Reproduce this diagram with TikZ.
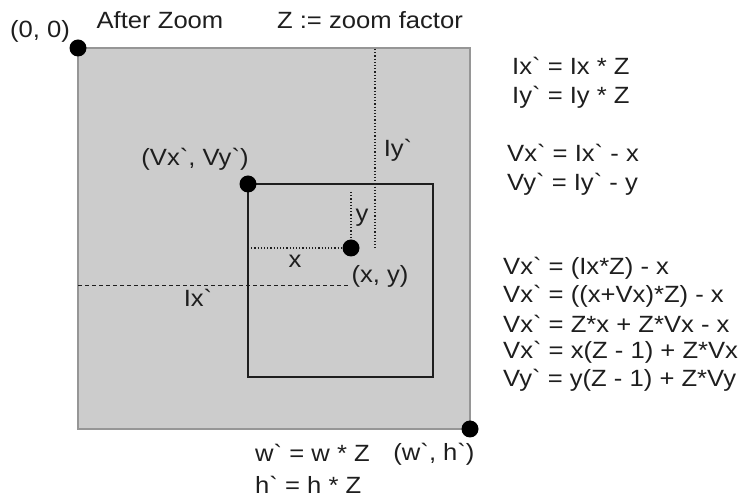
\documentclass[tikz,border=0pt]{standalone}
\usepackage{fontspec}
\newfontfamily\lib{Liberation Sans}[FakeStretch=1.09]
\definecolor{panel}{RGB}{204,204,204}
\definecolor{panelline}{RGB}{150,150,150}
\definecolor{ink}{RGB}{30,30,30}
\begin{document}
\begin{tikzpicture}[x=1pt,y=-1pt,
  txt/.style={font=\lib\fontsize{23.5}{26}\selectfont, text=ink, inner sep=0pt},
  eq/.style={txt, anchor=west},
  dot/.style={circle, fill=black, minimum size=17pt, inner sep=0pt},
  guide/.style={ink, dotted, line width=1.2pt},
  guidedash/.style={ink, dash pattern=on 4pt off 3pt, line width=0.9pt}]
\useasboundingbox (0,0) rectangle (748,502);
% outer zoomed image
\draw[fill=panel, draw=panelline, line width=1.2pt] (78,48) rectangle (470,429);
% viewport
\draw[ink, line width=2pt] (248,184) rectangle (433,377);
% coordinates
\coordinate (yt) at (351,192);
\coordinate (xl) at (248,248);
\coordinate (lxl) at (78,285);
\coordinate (lxr) at (349,285);
\coordinate (lyt) at (375,49);
\coordinate (lyb) at (375,248);
% guide lines
\draw[guide] (yt) -- (351,248);
\draw[guide] (xl) -- (351,248);
\draw[guide] (lyt) -- (lyb);
\draw[guidedash] (lxl) -- (lxr);
% dots
\node[dot] (origin) at (78,48) {};
\node[dot] (vp) at (248,184) {};
\node[dot] (pt) at (351,248) {};
\node[dot] (wh) at (470,429) {};
% labels
\node[txt] (l00) at (40,31) {(0, 0)};
\node[txt] (laz) at (160,20) {After Zoom};
\node[txt] (lzf) at (370,20) {Z := zoom factor};
\node[txt] (lvp) at (195,159) {(Vx\symbol{96}, Vy\symbol{96})};
\node[txt] (lxy) at (380,276) {(x, y)};
\node[txt] (ly) at (362,218) {y};
\node[txt] (lx) at (295,261) {x};
\node[txt] (llx) at (198,298) {Ix\symbol{96}};
\node[txt] (lly) at (398,150) {Iy\symbol{96}};
\node[txt] (lwh) at (434,454) {(w\symbol{96}, h\symbol{96})};
\node[eq] (ew) at (255,453) {w\symbol{96} = w * Z};
\node[eq] (eh) at (255,485) {h\symbol{96} = h * Z};
\node[eq] (e1) at (512,66) {Ix\symbol{96} = Ix * Z};
\node[eq] (e2) at (512,97) {Iy\symbol{96} = Iy * Z};
\node[eq] (e3) at (507,153) {Vx\symbol{96} = Ix\symbol{96} - x};
\node[eq] (e4) at (507,184) {Vy\symbol{96} = Iy\symbol{96} - y};
\node[eq] (e5) at (503,268) {Vx\symbol{96} = (Ix*Z) - x};
\node[eq] (e6) at (503,296) {Vx\symbol{96} = ((x+Vx)*Z) - x};
\node[eq] (e7) at (503,324) {Vx\symbol{96} = Z*x + Z*Vx - x};
\node[eq] (e8) at (503,352) {Vx\symbol{96} = x(Z - 1) + Z*Vx};
\node[eq] (e9) at (503,380) {Vy\symbol{96} = y(Z - 1) + Z*Vy};
\end{tikzpicture}
\end{document}
